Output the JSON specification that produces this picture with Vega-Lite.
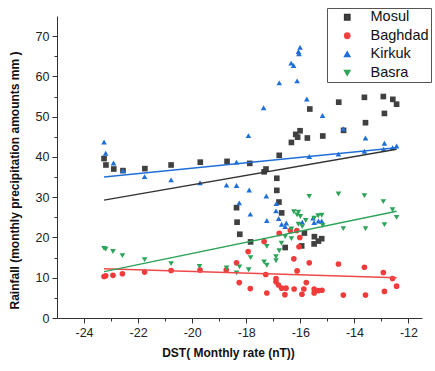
{
  "$schema": "https://vega.github.io/schema/vega-lite/v6.json",
  "width": 365,
  "height": 302,
  "autosize": "none",
  "padding": {"left": 57, "top": 16, "right": 13, "bottom": 53},
  "background": "white",
  "config": {
    "view": {"stroke": null},
    "font": "Liberation Sans",
    "axis": {
      "domainColor": "#333333",
      "tickColor": "#333333",
      "labelColor": "#222222",
      "labelFont": "Liberation Sans",
      "labelFontSize": 12.5,
      "titleFont": "Liberation Sans",
      "titleFontSize": 12,
      "titleFontWeight": "bold",
      "titleColor": "#111111",
      "grid": false
    }
  },
  "data": {
    "values": [
      {"city": "Mosul", "dst": -23.26, "rain": 39.6},
      {"city": "Mosul", "dst": -23.19, "rain": 38.0},
      {"city": "Mosul", "dst": -22.90, "rain": 37.0},
      {"city": "Mosul", "dst": -22.56, "rain": 36.6},
      {"city": "Mosul", "dst": -21.75, "rain": 37.1},
      {"city": "Mosul", "dst": -20.78, "rain": 38.0},
      {"city": "Mosul", "dst": -19.70, "rain": 38.7},
      {"city": "Mosul", "dst": -18.71, "rain": 38.9},
      {"city": "Mosul", "dst": -18.36, "rain": 27.4},
      {"city": "Mosul", "dst": -18.34, "rain": 23.8},
      {"city": "Mosul", "dst": -18.24, "rain": 20.8},
      {"city": "Mosul", "dst": -17.87, "rain": 38.4},
      {"city": "Mosul", "dst": -17.84, "rain": 18.9},
      {"city": "Mosul", "dst": -17.34, "rain": 36.3},
      {"city": "Mosul", "dst": -17.27, "rain": 37.0},
      {"city": "Mosul", "dst": -16.87, "rain": 34.7},
      {"city": "Mosul", "dst": -16.87, "rain": 31.7},
      {"city": "Mosul", "dst": -16.79, "rain": 28.8},
      {"city": "Mosul", "dst": -16.78, "rain": 40.4},
      {"city": "Mosul", "dst": -16.69, "rain": 26.1},
      {"city": "Mosul", "dst": -16.56, "rain": 17.5},
      {"city": "Mosul", "dst": -16.33, "rain": 43.6},
      {"city": "Mosul", "dst": -16.17, "rain": 45.6},
      {"city": "Mosul", "dst": -16.10, "rain": 44.9},
      {"city": "Mosul", "dst": -16.01, "rain": 46.5},
      {"city": "Mosul", "dst": -15.95, "rain": 17.9},
      {"city": "Mosul", "dst": -15.85, "rain": 21.1},
      {"city": "Mosul", "dst": -15.74, "rain": 44.7},
      {"city": "Mosul", "dst": -15.65, "rain": 51.9},
      {"city": "Mosul", "dst": -15.49, "rain": 18.4},
      {"city": "Mosul", "dst": -15.48, "rain": 20.2},
      {"city": "Mosul", "dst": -15.33, "rain": 19.1},
      {"city": "Mosul", "dst": -15.21, "rain": 19.7},
      {"city": "Mosul", "dst": -15.17, "rain": 45.2},
      {"city": "Mosul", "dst": -14.58, "rain": 53.6},
      {"city": "Mosul", "dst": -14.40, "rain": 46.6},
      {"city": "Mosul", "dst": -13.63, "rain": 54.8},
      {"city": "Mosul", "dst": -13.59, "rain": 48.5},
      {"city": "Mosul", "dst": -12.93, "rain": 55.0},
      {"city": "Mosul", "dst": -12.89, "rain": 50.8},
      {"city": "Mosul", "dst": -12.58, "rain": 54.3},
      {"city": "Mosul", "dst": -12.44, "rain": 53.1},

      {"city": "Baghdad", "dst": -23.26, "rain": 10.3},
      {"city": "Baghdad", "dst": -23.20, "rain": 10.5},
      {"city": "Baghdad", "dst": -22.93, "rain": 10.6},
      {"city": "Baghdad", "dst": -22.58, "rain": 11.0},
      {"city": "Baghdad", "dst": -21.76, "rain": 11.4},
      {"city": "Baghdad", "dst": -20.78, "rain": 11.8},
      {"city": "Baghdad", "dst": -19.71, "rain": 11.9},
      {"city": "Baghdad", "dst": -18.74, "rain": 11.9},
      {"city": "Baghdad", "dst": -18.36, "rain": 13.7},
      {"city": "Baghdad", "dst": -18.26, "rain": 8.8},
      {"city": "Baghdad", "dst": -17.93, "rain": 16.5},
      {"city": "Baghdad", "dst": -17.85, "rain": 7.3},
      {"city": "Baghdad", "dst": -17.34, "rain": 19.0},
      {"city": "Baghdad", "dst": -17.28, "rain": 10.8},
      {"city": "Baghdad", "dst": -17.24, "rain": 6.2},
      {"city": "Baghdad", "dst": -16.90, "rain": 9.8},
      {"city": "Baghdad", "dst": -16.90, "rain": 9.0},
      {"city": "Baghdad", "dst": -16.81, "rain": 8.2},
      {"city": "Baghdad", "dst": -16.78, "rain": 21.0},
      {"city": "Baghdad", "dst": -16.69, "rain": 7.4},
      {"city": "Baghdad", "dst": -16.57, "rain": 5.8},
      {"city": "Baghdad", "dst": -16.53, "rain": 7.4},
      {"city": "Baghdad", "dst": -16.37, "rain": 21.7},
      {"city": "Baghdad", "dst": -16.24, "rain": 14.7},
      {"city": "Baghdad", "dst": -16.23, "rain": 7.2},
      {"city": "Baghdad", "dst": -16.13, "rain": 21.7},
      {"city": "Baghdad", "dst": -16.12, "rain": 11.7},
      {"city": "Baghdad", "dst": -16.05, "rain": 17.7},
      {"city": "Baghdad", "dst": -16.02, "rain": 20.0},
      {"city": "Baghdad", "dst": -15.94, "rain": 5.9},
      {"city": "Baghdad", "dst": -15.87, "rain": 7.2},
      {"city": "Baghdad", "dst": -15.78, "rain": 8.8},
      {"city": "Baghdad", "dst": -15.67, "rain": 13.7},
      {"city": "Baghdad", "dst": -15.49, "rain": 7.2},
      {"city": "Baghdad", "dst": -15.49, "rain": 6.2},
      {"city": "Baghdad", "dst": -15.33, "rain": 6.8},
      {"city": "Baghdad", "dst": -15.20, "rain": 6.9},
      {"city": "Baghdad", "dst": -14.59, "rain": 13.4},
      {"city": "Baghdad", "dst": -14.41, "rain": 5.7},
      {"city": "Baghdad", "dst": -13.63, "rain": 12.6},
      {"city": "Baghdad", "dst": -13.59, "rain": 5.7},
      {"city": "Baghdad", "dst": -12.93, "rain": 11.3},
      {"city": "Baghdad", "dst": -12.89, "rain": 6.6},
      {"city": "Baghdad", "dst": -12.59, "rain": 9.8},
      {"city": "Baghdad", "dst": -12.44, "rain": 7.9},

      {"city": "Kirkuk", "dst": -23.26, "rain": 43.7},
      {"city": "Kirkuk", "dst": -23.20, "rain": 40.9},
      {"city": "Kirkuk", "dst": -22.91, "rain": 38.5},
      {"city": "Kirkuk", "dst": -22.56, "rain": 36.6},
      {"city": "Kirkuk", "dst": -21.76, "rain": 35.1},
      {"city": "Kirkuk", "dst": -20.78, "rain": 34.3},
      {"city": "Kirkuk", "dst": -19.71, "rain": 33.6},
      {"city": "Kirkuk", "dst": -18.73, "rain": 33.0},
      {"city": "Kirkuk", "dst": -18.36, "rain": 32.9},
      {"city": "Kirkuk", "dst": -18.36, "rain": 38.7},
      {"city": "Kirkuk", "dst": -18.26, "rain": 28.6},
      {"city": "Kirkuk", "dst": -17.92, "rain": 45.3},
      {"city": "Kirkuk", "dst": -17.89, "rain": 31.8},
      {"city": "Kirkuk", "dst": -17.85, "rain": 25.8},
      {"city": "Kirkuk", "dst": -17.36, "rain": 52.2},
      {"city": "Kirkuk", "dst": -17.26, "rain": 30.3},
      {"city": "Kirkuk", "dst": -17.24, "rain": 24.2},
      {"city": "Kirkuk", "dst": -16.89, "rain": 28.4},
      {"city": "Kirkuk", "dst": -16.90, "rain": 26.6},
      {"city": "Kirkuk", "dst": -16.80, "rain": 24.7},
      {"city": "Kirkuk", "dst": -16.78, "rain": 58.4},
      {"city": "Kirkuk", "dst": -16.69, "rain": 23.3},
      {"city": "Kirkuk", "dst": -16.56, "rain": 22.7},
      {"city": "Kirkuk", "dst": -16.52, "rain": 23.6},
      {"city": "Kirkuk", "dst": -16.34, "rain": 63.3},
      {"city": "Kirkuk", "dst": -16.25, "rain": 62.7},
      {"city": "Kirkuk", "dst": -16.12, "rain": 58.9},
      {"city": "Kirkuk", "dst": -16.07, "rain": 66.2},
      {"city": "Kirkuk", "dst": -16.05, "rain": 65.6},
      {"city": "Kirkuk", "dst": -16.01, "rain": 67.2},
      {"city": "Kirkuk", "dst": -15.93, "rain": 23.8},
      {"city": "Kirkuk", "dst": -15.76, "rain": 54.4},
      {"city": "Kirkuk", "dst": -15.67, "rain": 40.1},
      {"city": "Kirkuk", "dst": -15.53, "rain": 24.8},
      {"city": "Kirkuk", "dst": -15.49, "rain": 23.7},
      {"city": "Kirkuk", "dst": -15.33, "rain": 24.1},
      {"city": "Kirkuk", "dst": -15.21, "rain": 24.1},
      {"city": "Kirkuk", "dst": -15.18, "rain": 50.3},
      {"city": "Kirkuk", "dst": -14.59, "rain": 40.7},
      {"city": "Kirkuk", "dst": -14.41, "rain": 47.0},
      {"city": "Kirkuk", "dst": -13.63, "rain": 41.4},
      {"city": "Kirkuk", "dst": -13.59, "rain": 44.7},
      {"city": "Kirkuk", "dst": -12.92, "rain": 41.9},
      {"city": "Kirkuk", "dst": -12.89, "rain": 43.4},
      {"city": "Kirkuk", "dst": -12.59, "rain": 42.3},
      {"city": "Kirkuk", "dst": -12.44, "rain": 42.7},

      {"city": "Basra", "dst": -23.26, "rain": 17.3},
      {"city": "Basra", "dst": -23.20, "rain": 17.1},
      {"city": "Basra", "dst": -22.93, "rain": 16.5},
      {"city": "Basra", "dst": -22.58, "rain": 15.5},
      {"city": "Basra", "dst": -21.76, "rain": 14.5},
      {"city": "Basra", "dst": -20.78, "rain": 13.5},
      {"city": "Basra", "dst": -19.73, "rain": 12.8},
      {"city": "Basra", "dst": -18.73, "rain": 12.4},
      {"city": "Basra", "dst": -18.36, "rain": 11.2},
      {"city": "Basra", "dst": -18.25, "rain": 12.7},
      {"city": "Basra", "dst": -17.91, "rain": 12.0},
      {"city": "Basra", "dst": -17.84, "rain": 15.0},
      {"city": "Basra", "dst": -17.34, "rain": 13.9},
      {"city": "Basra", "dst": -17.24, "rain": 13.1},
      {"city": "Basra", "dst": -17.24, "rain": 17.8},
      {"city": "Basra", "dst": -16.90, "rain": 15.2},
      {"city": "Basra", "dst": -16.90, "rain": 14.2},
      {"city": "Basra", "dst": -16.78, "rain": 16.7},
      {"city": "Basra", "dst": -16.70, "rain": 18.6},
      {"city": "Basra", "dst": -16.56, "rain": 20.2},
      {"city": "Basra", "dst": -16.33, "rain": 19.7},
      {"city": "Basra", "dst": -16.33, "rain": 22.1},
      {"city": "Basra", "dst": -16.24, "rain": 26.4},
      {"city": "Basra", "dst": -16.12, "rain": 25.6},
      {"city": "Basra", "dst": -16.07, "rain": 26.3},
      {"city": "Basra", "dst": -16.07, "rain": 23.3},
      {"city": "Basra", "dst": -16.00, "rain": 25.2},
      {"city": "Basra", "dst": -15.93, "rain": 22.7},
      {"city": "Basra", "dst": -15.80, "rain": 24.2},
      {"city": "Basra", "dst": -15.67, "rain": 30.2},
      {"city": "Basra", "dst": -15.49, "rain": 24.8},
      {"city": "Basra", "dst": -15.34, "rain": 25.4},
      {"city": "Basra", "dst": -15.21, "rain": 25.5},
      {"city": "Basra", "dst": -15.17, "rain": 23.0},
      {"city": "Basra", "dst": -14.59, "rain": 30.8},
      {"city": "Basra", "dst": -14.41, "rain": 22.2},
      {"city": "Basra", "dst": -13.63, "rain": 30.4},
      {"city": "Basra", "dst": -13.59, "rain": 22.2},
      {"city": "Basra", "dst": -12.93, "rain": 28.9},
      {"city": "Basra", "dst": -12.89, "rain": 23.2},
      {"city": "Basra", "dst": -12.59, "rain": 26.9},
      {"city": "Basra", "dst": -12.44, "rain": 25.0}
    ]
  },
  "encoding": {
    "x": {
      "field": "dst",
      "type": "quantitative",
      "scale": {"domain": [-25, -11.5], "nice": false, "zero": false},
      "axis": {
        "title": "DST( Monthly rate (nT))",
        "values": [-24, -23, -22, -21, -20, -19, -18, -17, -16, -15, -14, -13, -12],
        "labelExpr": "datum.value % 2 === 0 ? '' + datum.value : ''",
        "tickSize": {"condition": {"test": "datum.value % 2 === 0", "value": 5}, "value": 3},
        "labelPadding": 3,
        "titleX": 171,
        "titleY": 34,
        "titleAlign": "center",
        "titleBaseline": "middle"
      }
    },
    "y": {
      "field": "rain",
      "type": "quantitative",
      "scale": {"domain": [0, 75], "nice": false},
      "axis": {
        "title": "Rainfall (monthly precipitation amounts mm )",
        "values": [0, 5, 10, 15, 20, 25, 30, 35, 40, 45, 50, 55, 60, 65, 70],
        "labelExpr": "datum.value % 10 === 0 ? '' + datum.value : ''",
        "tickSize": {"condition": {"test": "datum.value % 10 === 0", "value": 5}, "value": 3},
        "labelPadding": 3,
        "titleAngle": -90,
        "titleX": -43,
        "titleY": 164,
        "titleAlign": "center",
        "titleBaseline": "middle"
      }
    }
  },
  "layer": [
    {
      "mark": {"type": "point", "filled": true, "opacity": 1, "size": 32},
      "encoding": {
        "color": {
          "field": "city",
          "type": "nominal",
          "scale": {
            "domain": ["Mosul", "Baghdad", "Kirkuk", "Basra"],
            "range": ["#404040", "#f03b3b", "#1f6fd8", "#2ea35a"]
          },
          "legend": {
            "title": null,
            "orient": "none",
            "legendX": 270,
            "legendY": -8,
            "strokeColor": "#555555",
            "fillColor": "white",
            "padding": 2,
            "rowPadding": 3.5,
            "symbolSize": 28,
            "symbolOffset": 11,
            "labelOffset": 16,
            "labelFontSize": 14.5,
            "labelFont": "Liberation Sans",
            "labelColor": "#111111"
          }
        },
        "shape": {
          "field": "city",
          "type": "nominal",
          "scale": {
            "domain": ["Mosul", "Baghdad", "Kirkuk", "Basra"],
            "range": ["square", "circle", "triangle-up", "triangle-down"]
          },
          "legend": {
            "title": null,
            "orient": "none",
            "legendX": 270,
            "legendY": -8,
            "strokeColor": "#555555",
            "fillColor": "white",
            "padding": 2,
            "rowPadding": 3.5,
            "symbolSize": 28,
            "symbolOffset": 11,
            "labelOffset": 16,
            "labelFontSize": 14.5,
            "labelFont": "Liberation Sans",
            "labelColor": "#111111"
          }
        }
      }
    },
    {
      "transform": [{"regression": "rain", "on": "dst", "groupby": ["city"]}],
      "mark": {"type": "line", "strokeWidth": 1.4},
      "encoding": {
        "stroke": {
          "field": "city",
          "type": "nominal",
          "scale": {
            "domain": ["Mosul", "Baghdad", "Kirkuk", "Basra"],
            "range": ["#333333", "#f04848", "#1f6fd8", "#2ea35a"]
          },
          "legend": null
        }
      }
    }
  ]
}
